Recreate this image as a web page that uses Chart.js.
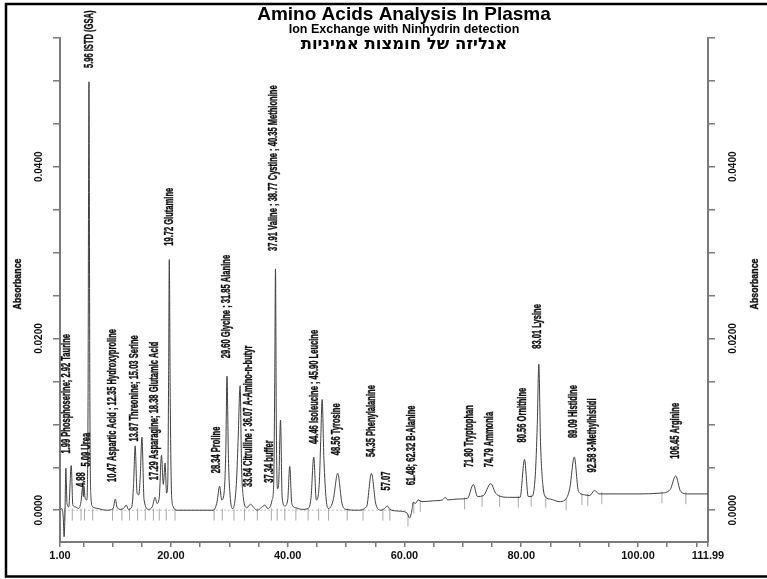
<!DOCTYPE html>
<html lang="en">
<head>
    <meta charset="UTF-8">
    <meta name="viewport" content="width=device-width, initial-scale=1.0">
    <title>Amino Acids Analysis In Plasma</title>
    <style>
        body {
            margin: 0;
            background: #ffffff;
        }
        #chromatogram {
            display: block;
        }
    </style>
    <!-- Include Chart.js -->
    <script src="https://cdn.jsdelivr.net/npm/chart.js"></script>
</head>
<body>
    <canvas id="chromatogram" width="767" height="579"></canvas>

    <script>
        // Retention time (min) and absorbance
        const times = [
            1.00, 1.30, 1.55, 1.70, 1.85, 2.00, 2.20, 2.50, 2.92, 3.20,
            3.60, 4.20, 4.60, 4.88, 5.00, 5.09, 5.30, 5.60, 5.80, 5.96,
            6.12, 6.30, 6.60, 7.50, 9.00, 10.10, 10.47, 10.80, 11.50, 12.00,
            12.35, 12.70, 13.30, 13.60, 13.87, 14.20, 14.50, 14.75, 15.03, 15.40,
            16.20, 16.80, 17.29, 17.60, 18.00, 18.38, 18.70, 19.00, 19.25, 19.45,
            19.60, 19.72, 19.88, 20.10, 20.40, 21.00, 25.00, 27.30, 27.90, 28.34,
            28.70, 29.10, 29.40, 29.60, 29.85, 30.20, 30.60, 31.20, 31.50, 31.85,
            32.10, 32.40, 33.00, 33.64, 34.20, 34.80, 35.50, 36.07, 36.60, 37.00,
            37.34, 37.60, 37.78, 37.91, 38.05, 38.25, 38.45, 38.77, 39.05, 39.50,
            40.00, 40.35, 40.70, 41.30, 42.50, 43.50, 44.00, 44.46, 44.90, 45.40,
            45.65, 45.90, 46.20, 46.60, 47.00, 47.80, 48.56, 49.30, 50.00, 52.00,
            53.50, 54.35, 55.10, 56.00, 56.60, 57.07, 57.50, 59.00, 60.40, 60.90,
            61.30, 61.48, 61.90, 62.32, 63.00, 65.00, 66.50, 67.00, 67.40, 69.00,
            70.80, 71.80, 72.50, 73.50, 74.79, 75.60, 76.50, 78.00, 79.80, 80.56,
            81.20, 81.80, 82.40, 82.75, 83.01, 83.30, 83.70, 84.20, 85.00, 86.50,
            87.50, 88.30, 89.09, 89.80, 90.80, 91.70, 92.58, 93.30, 95.00, 100.00,
            104.00, 105.50, 106.45, 107.30, 108.50, 111.99
        ];
        const absorbance = [
            0.0000, 0.0002, -0.0008, -0.0031, -0.0005, 0.0049, 0.0008, 0.0004, 0.0052, 0.0006,
            0.0004, 0.0002, 0.0010, 0.0027, 0.0016, 0.0028, 0.0014, 0.0012, 0.0120, 0.0499,
            0.0120, 0.0015, 0.0004, 0.0002, 0.0000, 0.0002, 0.0013, 0.0003, 0.0001, 0.0003,
            0.0006, 0.0001, 0.0004, 0.0030, 0.0075, 0.0020, 0.0018, 0.0040, 0.0085, 0.0012,
            0.0001, 0.0004, 0.0015, 0.0008, 0.0015, 0.0064, 0.0030, 0.0055, 0.0020, 0.0030,
            0.0150, 0.0292, 0.0130, 0.0020, 0.0004, 0.0000, 0.0000, 0.0000, 0.0010, 0.0028,
            0.0012, 0.0020, 0.0070, 0.0156, 0.0060, 0.0012, 0.0002, 0.0030, 0.0080, 0.0145,
            0.0050, 0.0015, 0.0003, 0.0007, 0.0003, 0.0000, 0.0003, 0.0006, 0.0002, 0.0004,
            0.0012, 0.0030, 0.0150, 0.0281, 0.0100, 0.0025, 0.0030, 0.0105, 0.0015, 0.0005,
            0.0012, 0.0051, 0.0008, 0.0003, 0.0001, 0.0002, 0.0015, 0.0062, 0.0012, 0.0030,
            0.0080, 0.0129, 0.0060, 0.0012, 0.0002, 0.0012, 0.0043, 0.0008, 0.0001, 0.0000,
            0.0004, 0.0043, 0.0007, 0.0000, 0.0002, 0.0005, 0.0001, -0.0001, -0.0003, -0.0009,
            0.0001, 0.0009, 0.0008, 0.0012, 0.0010, 0.0011, 0.0012, 0.0015, 0.0012, 0.0013,
            0.0014, 0.0030, 0.0016, 0.0017, 0.0031, 0.0020, 0.0016, 0.0015, 0.0015, 0.0059,
            0.0016, 0.0016, 0.0040, 0.0100, 0.0170, 0.0080, 0.0030, 0.0015, 0.0013, 0.0010,
            0.0012, 0.0025, 0.0062, 0.0022, 0.0018, 0.0017, 0.0023, 0.0019, 0.0019, 0.0019,
            0.0020, 0.0024, 0.0040, 0.0022, 0.0019, 0.0019
        ];

        // Dotted zero line, only as far as the baseline step near 60 min
        const zeroLineTimes = [1.00, 60.60];
        const zeroLineLevels = [0, 0];

        // Peak start / end integration marks
        const markTimes = [
            1.8, 3.1, 4.6, 5.2, 6.6, 10.0, 11.6, 12.9, 14.3, 15.6,
            17.0, 18.0, 19.2, 20.7, 27.4, 28.8, 30.8, 32.6, 34.8, 37.2,
            38.2, 39.5, 41.4, 43.5, 45.3, 47.0, 50.2, 52.9, 56.3, 57.5,
            60.6, 61.6, 62.7, 70.3, 73.3, 76.3, 79.5, 81.7, 84.2, 87.7,
            90.4, 91.4, 93.8, 104.1, 108.2
        ];
        const markLevels = [
            -0.0005, -0.0005, -0.0005, -0.0005, -0.0005, -0.0005, -0.0005, -0.0005, -0.0005, -0.0005,
            -0.0005, -0.0005, -0.0005, -0.0005, -0.0005, -0.0005, -0.0005, -0.0005, -0.0005, -0.0005,
            -0.0005, -0.0005, -0.0005, -0.0005, -0.0005, -0.0005, -0.0005, -0.0005, -0.0005, -0.0005,
            -0.0012, 0.0003, 0.0005, 0.0008, 0.0011, 0.0011, 0.0010, 0.0011, 0.0010, 0.0007,
            0.0013, 0.0012, 0.0014, 0.0015, 0.0014
        ];

        // Peak names, the time they sit at and the level where the text starts
        const peakLabels = [
            '1.99 Phosphoserine; 2.92 Taurine', '4.88', '5.09 Urea', '5.96 ISTD (GSA)',
            '10.47 Aspartic Acid ; 12.35 Hydroxyproline', '13.87 Threonine; 15.03 Serine',
            '17.29 Asparagine; 18.38 Glutamic Acid', '19.72 Glutamine', '28.34 Proline',
            '29.60 Glycine ; 31.85 Alanine', '33.64 Citrulline ; 36.07 A-Amino-n-butyr',
            '37.34 buffer', '37.91 Valine ; 38.77 Cystine ; 40.35 Methionine',
            '44.46 Isoleucine ; 45.90 Leucine', '48.56 Tyrosine', '54.35 Phenylalanine',
            '57.07', '61.48; 62.32 B-Alanine', '71.80 Tryptophan', '74.79 Ammonia',
            '80.56 Ornithine', '83.01 Lysine', '89.09 Histidine', '92.58 3-Methylhistidi',
            '106.45 Arginine'
        ];
        const labelTimes = [
            2.2, 4.75, 5.6, 6.1, 10.1, 13.85, 17.3, 19.85, 27.8, 29.6,
            33.4, 37.0, 37.65, 44.7, 48.45, 54.45, 57.0, 61.3, 71.2, 74.6,
            80.3, 82.9, 89.0, 92.3, 106.5
        ];
        const labelLevels = [
            0.0066, 0.0027, 0.0051, 0.0515, 0.0033, 0.0080, 0.0035, 0.0308, 0.0043, 0.0177,
            0.0027, 0.0032, 0.0302, 0.0077, 0.0064, 0.0062, 0.0023, 0.0029, 0.0050, 0.0050,
            0.0079, 0.0188, 0.0084, 0.0044, 0.0060
        ];

        // Axis ticks
        const xTickValues = [1, 5, 10, 15, 20, 25, 30, 35, 40, 45, 50, 55, 60, 65, 70, 75, 80, 85, 90, 95, 100, 105, 110, 111.99];
        const xTickLabels = ['1.00', '', '', '', '20.00', '', '', '', '40.00', '', '', '', '60.00', '', '', '', '80.00', '', '', '', '100.00', '', '', '111.99'];
        const yTickValues = [0, 0.005, 0.010, 0.015, 0.020, 0.025, 0.030, 0.035, 0.040, 0.045, 0.050, 0.055];
        const yTickLabels = ['0.0000', '', '', '', '0.0200', '', '', '', '0.0400', '', '', ''];

        const titleText = 'Amino Acids Analysis In Plasma';
        const subtitleText = 'Ion Exchange with Ninhydrin detection';
        const hebrewText = 'אנליזה של חומצות אמיניות';
        const axisTitle = 'Absorbance';

        const sansFont = '"Liberation Sans", Arial, "DejaVu Sans", sans-serif';

        const trace = times.map((t, i) => ({ x: t, y: absorbance[i] }));
        const marks = markTimes.map((t, i) => ({ x: t, y: markLevels[i] }));
        const zeroLine = zeroLineTimes.map((t, i) => ({ x: t, y: zeroLineLevels[i] }));

        // Draws narrow, rotated text reading bottom to top
        function drawUpText(ctx, text, x, y, size, squeeze, align) {
            ctx.save();
            ctx.translate(x, y);
            ctx.rotate(-Math.PI / 2);
            ctx.scale(squeeze, 1);
            ctx.font = 'bold ' + size + 'px ' + sansFont;
            ctx.textAlign = align;
            ctx.textBaseline = 'middle';
            ctx.fillStyle = '#111';
            ctx.strokeStyle = '#111';
            ctx.lineWidth = 0.4;
            ctx.fillText(text, 0, 0);
            ctx.strokeText(text, 0, 0);
            ctx.restore();
        }

        // Frame, titles, axis titles and peak names
        const decorations = {
            id: 'decorations',
            beforeDraw(chart) {
                const ctx = chart.ctx;
                ctx.save();
                ctx.fillStyle = '#ffffff';
                ctx.fillRect(0, 0, chart.width, chart.height);
                ctx.restore();
            },
            afterDraw(chart) {
                const ctx = chart.ctx;
                const xs = chart.scales.x;
                const ys = chart.scales.y;
                const area = chart.chartArea;

                ctx.save();
                ctx.strokeStyle = '#000';
                ctx.lineWidth = 2.5;
                ctx.beginPath();
                ctx.moveTo(chart.width, 4);
                ctx.lineTo(6, 4);
                ctx.lineTo(6, 576.5);
                ctx.lineTo(chart.width, 576.5);
                ctx.stroke();

                ctx.fillStyle = '#000';
                ctx.textAlign = 'center';
                ctx.textBaseline = 'alphabetic';
                ctx.font = 'bold 19px ' + sansFont;
                ctx.fillText(titleText, 404, 20);
                ctx.font = 'bold 12.5px ' + sansFont;
                ctx.fillText(subtitleText, 404, 33);
                ctx.font = 'bold 16.5px "DejaVu Sans", "Liberation Sans", sans-serif';
                ctx.fillText(hebrewText, 404, 49);
                ctx.restore();

                const midY = (area.top + area.bottom) / 2 - 6;
                drawUpText(ctx, axisTitle, 18, midY, 11, 0.8, 'center');
                drawUpText(ctx, axisTitle, 755, midY, 11, 0.8, 'center');

                peakLabels.forEach((text, i) => {
                    const px = xs.getPixelForValue(labelTimes[i]);
                    const py = ys.getPixelForValue(labelLevels[i]);
                    drawUpText(ctx, text, px, py, 12, 0.63, 'left');
                });
            }
        };

        const tickFont = { family: sansFont, size: 10, weight: 'bold' };

        const ctx = document.getElementById('chromatogram').getContext('2d');
        new Chart(ctx, {
            type: 'line',
            data: {
                datasets: [
                    {
                        data: zeroLine,
                        borderColor: '#c4c4c4',
                        borderWidth: 1,
                        borderDash: [2, 2],
                        pointRadius: 0,
                        order: 3
                    },
                    {
                        data: marks,
                        showLine: false,
                        pointStyle: 'line',
                        pointRotation: 90,
                        pointRadius: 6,
                        pointBorderColor: '#a8a8a8',
                        pointBorderWidth: 1,
                        order: 2
                    },
                    {
                        data: trace,
                        borderColor: '#404040',
                        borderWidth: 1,
                        pointRadius: 0,
                        cubicInterpolationMode: 'monotone',
                        fill: false,
                        order: 1
                    }
                ]
            },
            options: {
                responsive: false,
                animation: false,
                devicePixelRatio: 1,
                layout: {
                    padding: { top: 38, left: 0, right: 0, bottom: 0 }
                },
                plugins: {
                    legend: { display: false },
                    tooltip: { enabled: false },
                    title: { display: false }
                },
                scales: {
                    x: {
                        type: 'linear',
                        min: 1,
                        max: 111.99,
                        afterBuildTicks: s => { s.ticks = xTickValues.map(v => ({ value: v })); },
                        afterFit: s => { s.height = 37; },
                        ticks: {
                            autoSkip: false,
                            minRotation: 0,
                            maxRotation: 0,
                            padding: 2,
                            color: '#111',
                            font: { family: sansFont, size: 11, weight: 'bold' },
                            callback: (v, i) => xTickLabels[i]
                        },
                        grid: { drawOnChartArea: false, tickLength: 5, color: '#7a7a7a', lineWidth: 1.5 },
                        border: { color: '#7a7a7a', width: 2 }
                    },
                    y: {
                        position: 'left',
                        min: -0.0037,
                        max: 0.055,
                        afterBuildTicks: s => { s.ticks = yTickValues.map(v => ({ value: v })); },
                        afterFit: s => { s.width = 60; },
                        ticks: {
                            minRotation: 90,
                            maxRotation: 90,
                            crossAlign: 'center',
                            padding: -2,
                            color: '#111',
                            font: tickFont,
                            callback: (v, i) => yTickLabels[i]
                        },
                        grid: { drawOnChartArea: false, tickLength: 7, color: '#7a7a7a', lineWidth: 1.5 },
                        border: { color: '#7a7a7a', width: 2 }
                    },
                    y2: {
                        position: 'right',
                        min: -0.0037,
                        max: 0.055,
                        afterBuildTicks: s => { s.ticks = yTickValues.map(v => ({ value: v })); },
                        afterFit: s => { s.width = 59; },
                        ticks: {
                            minRotation: 90,
                            maxRotation: 90,
                            crossAlign: 'center',
                            padding: 3,
                            color: '#111',
                            font: tickFont,
                            callback: (v, i) => yTickLabels[i]
                        },
                        grid: { drawOnChartArea: false, tickLength: 7, color: '#7a7a7a', lineWidth: 1.5 },
                        border: { color: '#7a7a7a', width: 2 }
                    }
                }
            },
            plugins: [decorations]
        });
    </script>
</body>
</html>
